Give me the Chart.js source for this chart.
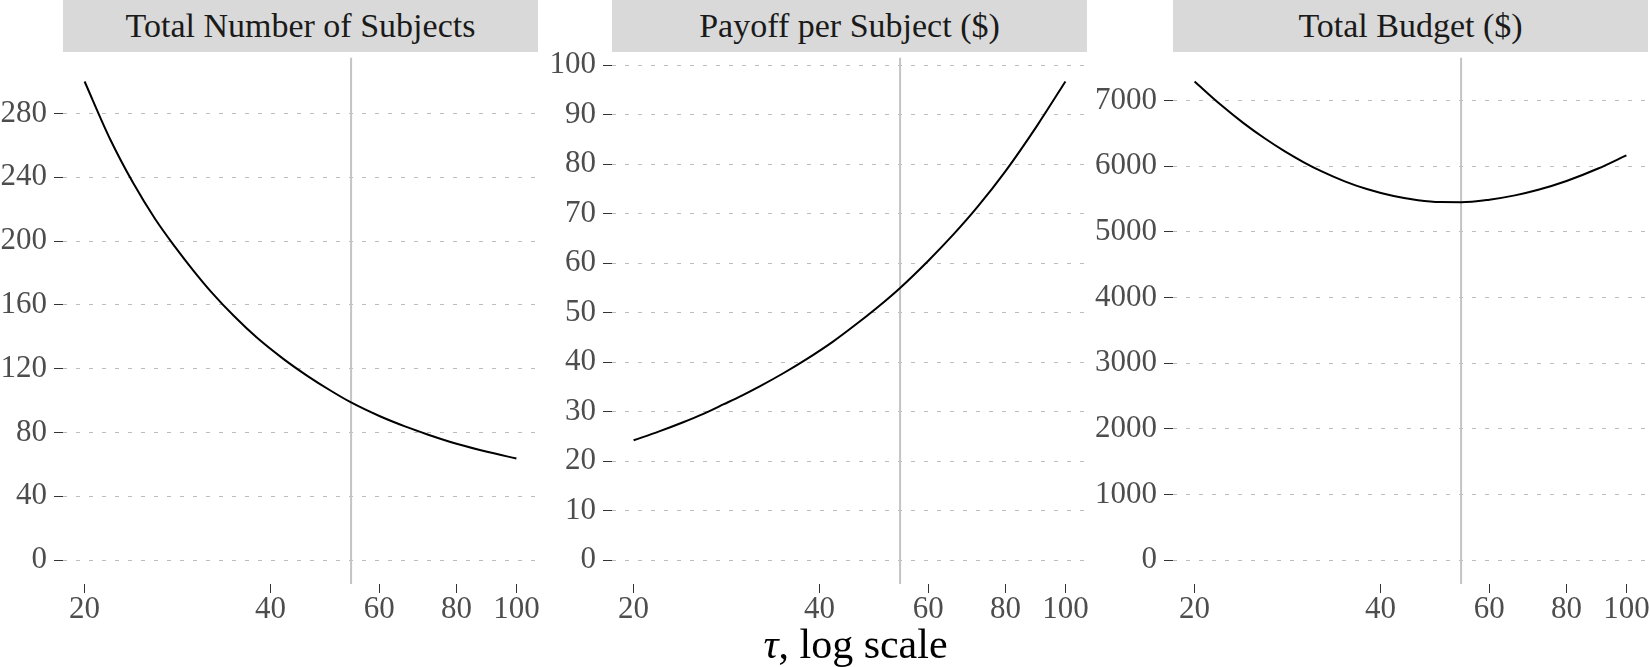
<!DOCTYPE html>
<html>
<head>
<meta charset="utf-8">
<script src="https://cdn.jsdelivr.net/npm/chart.js@4.4.1/dist/chart.umd.min.js"></script>
<style>
  html, body { margin: 0; padding: 0; background: #ffffff; }
  body { width: 1650px; height: 667px; position: relative; overflow: hidden; font-family: "Liberation Serif", serif; }
  .strip { position: absolute; top: 0; height: 52px; background: #D9D9D9; color: #1A1A1A;
           font-size: 34px; line-height: 52px; text-align: center; white-space: nowrap; }
  .cv { position: absolute; top: 32px; }
  .xtitle { position: absolute; left: 63px; width: 1585px; top: 620px; height: 48px; line-height: 48px;
            text-align: center; font-size: 42px; color: #000; }
</style>
</head>
<body>
<div id="root"></div>
<div class="xtitle"><i>τ</i>, log scale</div>
<script>
// ---- data ----
const panelTitles = ["Total Number of Subjects", "Payoff per Subject ($)", "Total Budget ($)"];
const tau      = [20, 22, 24, 26, 28, 30, 32, 35, 38, 42, 46, 50, 54, 60, 66, 72, 80, 90, 100];
const subjects = [300, 263.8, 236, 214, 196.5, 181.5, 168.5, 152.5, 139.5, 126, 115.2, 106.3, 98.8, 90.3, 83.8, 78.6, 72.9, 67.7, 63.7];
const payoff   = [24.2, 26.0, 27.8, 29.6, 31.5, 33.3, 35.1, 37.8, 40.5, 44.1, 47.8, 51.4, 55.0, 60.5, 65.9, 71.3, 78.6, 87.8, 96.7];
const budget   = [7289, 6942, 6656, 6421, 6225, 6063, 5928, 5769, 5651, 5544, 5481, 5453, 5451, 5490, 5555, 5640, 5774, 5964, 6165];
const tauOptimal = 54;
const xTicks = [20, 40, 60, 80, 100];
const yTicksSubjects = [0, 40, 80, 120, 160, 200, 240, 280];
const yTicksPayoff   = [0, 10, 20, 30, 40, 50, 60, 70, 80, 90, 100];
const yTicksBudget   = [0, 1000, 2000, 3000, 4000, 5000, 6000, 7000];

// ---- layout ----
const stripLeft = [63, 612, 1173];
const panelW = 475, plotH = 532, yAxisW = 90, xAxisH = 60, padTop = 20, padRight = 30;
const series = [subjects, payoff, budget];
const yTickSets = [yTicksSubjects, yTicksPayoff, yTicksBudget];

// x range: log scale with 5% expansion (ggplot default)
const lx0 = Math.log(xTicks[0]), lx1 = Math.log(xTicks[xTicks.length - 1]);
const xMin = Math.exp(lx0 - 0.05 * (lx1 - lx0));
const xMax = Math.exp(lx1 + 0.05 * (lx1 - lx0));

const root = document.getElementById('root');
const tickFont = { family: "Liberation Serif", size: 31 };

series.forEach((vals, i) => {
  const strip = document.createElement('div');
  strip.className = 'strip';
  strip.style.left = stripLeft[i] + 'px';
  strip.style.width = panelW + 'px';
  strip.textContent = panelTitles[i];
  root.appendChild(strip);

  const W = yAxisW + panelW + padRight, H = padTop + plotH + xAxisH;
  const wrap = document.createElement('div');
  wrap.className = 'cv';
  wrap.style.left = (stripLeft[i] - yAxisW) + 'px';
  wrap.style.width = W + 'px';
  wrap.style.height = H + 'px';
  const cv = document.createElement('canvas');
  cv.width = W; cv.height = H;
  cv.style.width = W + 'px'; cv.style.height = H + 'px';
  wrap.appendChild(cv);
  root.appendChild(wrap);

  const vmax = Math.max(...vals);
  const yMin = -0.05 * vmax, yMax = vmax * 1.05;
  const yt = yTickSets[i];

  new Chart(cv.getContext('2d'), {
    type: 'line',
    data: {
      datasets: [
        {
          data: tau.map((t, k) => ({ x: t, y: vals[k] })),
          borderColor: '#000000', borderWidth: 2, pointRadius: 0,
          cubicInterpolationMode: 'monotone', fill: false, order: 0
        },
        {
          data: [{ x: tauOptimal, y: yMin }, { x: tauOptimal, y: yMax }],
          borderColor: '#C4C4C4', borderWidth: 2, pointRadius: 0, fill: false, order: 1
        }
      ]
    },
    options: {
      responsive: false, animation: false, devicePixelRatio: 1,
      layout: { padding: { top: padTop, right: padRight, left: 0, bottom: 0 } },
      plugins: { legend: { display: false }, tooltip: { enabled: false } },
      scales: {
        x: {
          type: 'logarithmic', min: xMin, max: xMax,
          afterBuildTicks: s => { s.ticks = xTicks.map(v => ({ value: v })); },
          afterFit: s => { s.height = xAxisH; },
          grid: { drawOnChartArea: false, drawTicks: true, tickLength: 9, tickColor: '#333333', tickWidth: 1 },
          border: { display: false },
          ticks: { color: '#4D4D4D', font: tickFont, padding: -2, maxRotation: 0, autoSkip: false,
                   callback: v => String(v) }
        },
        y: {
          type: 'linear', min: yMin, max: yMax,
          afterBuildTicks: s => { s.ticks = yt.map(v => ({ value: v })); },
          afterFit: s => { s.width = yAxisW; },
          grid: { color: '#BDBDBD', lineWidth: 1, drawTicks: true, tickLength: 9, tickColor: '#333333', tickWidth: 1 },
          border: { display: false, dash: [4, 9] },
          ticks: { color: '#4D4D4D', font: tickFont, padding: 7, autoSkip: false,
                   callback: v => String(v) }
        }
      }
    }
  });
});
</script>
</body>
</html>
